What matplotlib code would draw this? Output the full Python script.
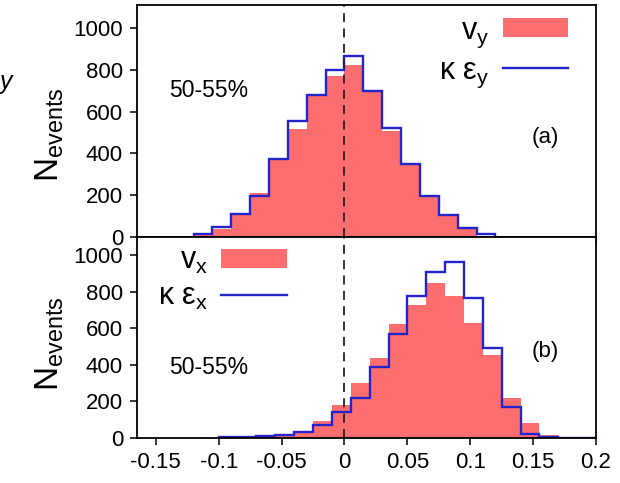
import matplotlib
matplotlib.use("Agg")
import matplotlib.pyplot as plt
from matplotlib.patches import Patch
from matplotlib.lines import Line2D

plt.rcParams['font.family'] = ['Liberation Sans', 'DejaVu Sans']
plt.rcParams['mathtext.fontset'] = 'custom'
plt.rcParams['mathtext.rm'] = 'Liberation Sans'
plt.rcParams['mathtext.it'] = 'Liberation Sans:italic'

# ---- data -------------------------------------------------------------
# panel (a): y-component, bin edges and counts per bin
edges_y = [-0.12, -0.105, -0.09, -0.075, -0.06, -0.045, -0.03, -0.015, 0.0,
           0.015, 0.03, 0.045, 0.06, 0.075, 0.09, 0.105, 0.12]
vy_counts = [10, 40, 105, 212, 370, 517, 680, 772, 824, 697, 505, 343, 190,
             102, 40, 6]
keps_y_counts = [15, 46, 110, 195, 375, 553, 681, 797, 868, 700, 522, 347,
                 194, 107, 43, 16]

# panel (b): x-component
edges_x = [-0.1, -0.085, -0.07, -0.055, -0.04, -0.025, -0.01, 0.005, 0.02,
           0.035, 0.05, 0.065, 0.08, 0.095, 0.11, 0.125, 0.14, 0.155, 0.17,
           0.185, 0.2]
vx_counts = [0, 0, 3, 8, 37, 90, 180, 298, 438, 621, 727, 846, 777, 628, 456,
             215, 83, 13, 0, 0]
keps_x_counts = [2, 3, 10, 15, 33, 72, 140, 218, 388, 570, 777, 908, 962, 768,
                 491, 170, 20, 3, 0, 0]

x_ticks = [-0.15, -0.1, -0.05, 0, 0.05, 0.1, 0.15, 0.2]
x_tick_labels = ['-0.15', '-0.1', '-0.05', '0', '0.05', '0.1', '0.15', '0.2']
y_ticks = [0, 200, 400, 600, 800, 1000]
centrality = '50-55%'

RED = '#ff6e6e'
BLUE = '#2424cc'

# ---- figure -------------------------------------------------------------
W, H = 620, 483
fig = plt.figure(figsize=(W / 100, H / 100), dpi=100)
left, right = 137, 596
ax1 = fig.add_axes([left / W, 1 - 237 / H, (right - left) / W, (237 - 5) / H])
ax2 = fig.add_axes([left / W, 1 - 437.7 / H, (right - left) / W, (437.7 - 237) / H])


def draw_panel(ax, edges, red_vals, blue_vals, ymax):
    ax.stairs(red_vals, edges, fill=True, color=RED, linewidth=0, zorder=1)
    ax.stairs(blue_vals, edges, color=BLUE, linewidth=1.7, zorder=2)
    ax.axvline(0, color='#222222', linestyle=(0, (5, 3.5)), linewidth=1.3,
               zorder=3)
    ax.set_xlim(-0.165, 0.2)
    ax.set_ylim(0, ymax)
    ax.set_xticks(x_ticks)
    ax.set_yticks(y_ticks)
    ax.tick_params(direction='out', length=5, width=1.1, labelsize=16,
                   pad=5, colors='black')
    for s in ax.spines.values():
        s.set_linewidth(1.3)
        s.set_zorder(4)


draw_panel(ax1, edges_y, vy_counts, keps_y_counts, 1110)
draw_panel(ax2, edges_x, vx_counts, keps_x_counts, 1100)

ax1.set_xticklabels([])
ax2.set_xticklabels(x_tick_labels)

for ax, yc in ((ax1, 0.44), (ax2, 0.47)):
    ax.set_ylabel(r'$\mathregular{N_{events}}$', fontsize=24)
    ax.yaxis.set_label_coords(-0.155, yc)

# panel labels and centrality class
ax1.text(0.07, 0.63, centrality, transform=ax1.transAxes, fontsize=16.5,
         ha='left', va='center')
ax2.text(0.07, 0.35, centrality, transform=ax2.transAxes, fontsize=16.5,
         ha='left', va='center')
ax1.text(0.89, 0.43, '(a)', transform=ax1.transAxes, fontsize=16,
         ha='center', va='center')
ax2.text(0.89, 0.43, '(b)', transform=ax2.transAxes, fontsize=16,
         ha='center', va='center')


# legends
def add_legend(ax, labels, loc, anchor):
    handles = [Patch(facecolor=RED, edgecolor='none'),
               Line2D([], [], color=BLUE, linewidth=1.7)]
    ax.legend(handles, labels, loc=loc, bbox_to_anchor=anchor,
              frameon=False, markerfirst=False, fontsize=22,
              handlelength=2.15, handleheight=0.6, handletextpad=0.45,
              labelspacing=0.2, borderaxespad=0.0, borderpad=0.0)


add_legend(ax1, [r'$\mathregular{v_y}$', r'$\mathregular{\kappa\ \varepsilon_y}$'],
           'upper right', (0.94, 0.955))
add_legend(ax2, [r'$\mathregular{v_x}$', r'$\mathregular{\kappa\ \varepsilon_x}$'],
           'upper left', (0.045, 0.955))

# fragment of a neighbouring label at the left edge
fig.text(12 / W, 1 - 82 / H, 'y', fontsize=18, style='italic',
         ha='right', va='center')

fig.savefig('out.png', dpi=100)
